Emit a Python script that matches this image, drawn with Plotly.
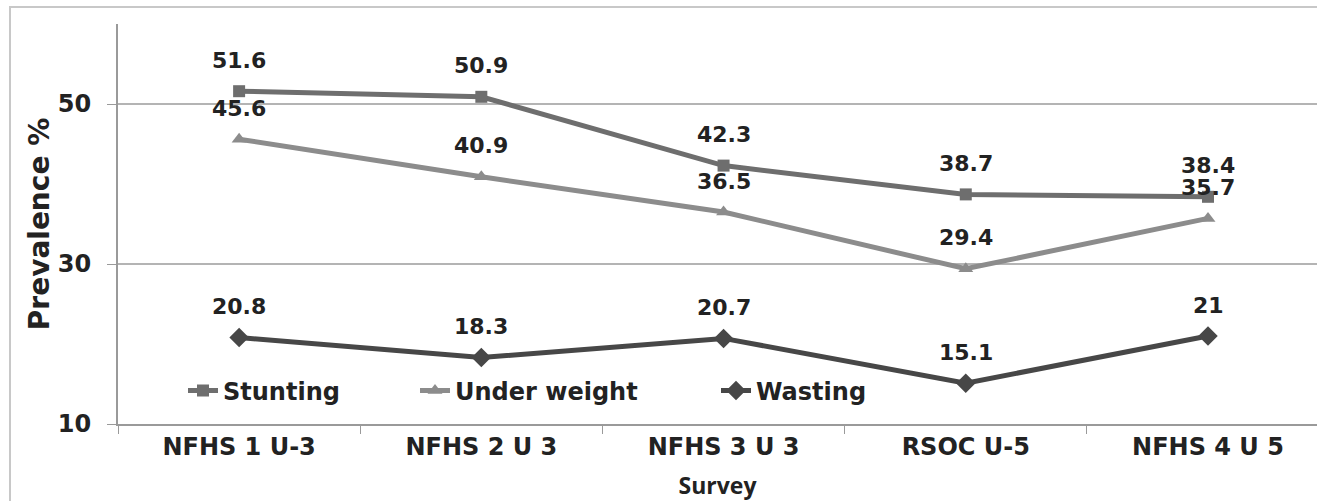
import plotly.graph_objects as go

categories = ["NFHS 1 U-3", "NFHS 2 U 3", "NFHS 3 U 3", "RSOC U-5", "NFHS 4 U 5"]
stunting = [51.6, 50.9, 42.3, 38.7, 38.4]
underweight = [45.6, 40.9, 36.5, 29.4, 35.7]
wasting = [20.8, 18.3, 20.7, 15.1, 21]
label_text = {
    "Stunting": ["51.6", "50.9", "42.3", "38.7", "38.4"],
    "Under weight": ["45.6", "40.9", "36.5", "29.4", "35.7"],
    "Wasting": ["20.8", "18.3", "20.7", "15.1", "21"],
}

FONT = "DejaVu Sans"
series = [
    ("Stunting", stunting, "#6e6e6e", "square", 12, "legend"),
    ("Under weight", underweight, "#8c8c8c", "triangle-up", 13, "legend2"),
    ("Wasting", wasting, "#474747", "diamond", 15, "legend3"),
]

fig = go.Figure()
for name, vals, color, sym, msize, lg in series:
    fig.add_trace(go.Scatter(
        x=categories, y=vals, name=name, mode="lines+markers",
        line=dict(color=color, width=5),
        marker=dict(symbol=sym, size=msize, color=color),
        legend=lg, cliponaxis=False,
    ))

annotations = []
for name, vals, color, sym, msize, lg in series:
    for c, v, t in zip(categories, vals, label_text[name]):
        annotations.append(dict(
            x=c, y=v, xref="x", yref="y", text=t, showarrow=False,
            yshift=31, xanchor="center", yanchor="middle",
            font=dict(family=FONT, size=22, color="#222222", weight="bold"),
        ))

def lgd(px):
    return dict(
        x=(px - 118) / 1199, y=(424 - 391) / 400, xanchor="left", yanchor="middle",
        orientation="h", bgcolor="rgba(0,0,0,0)", borderwidth=0,
        font=dict(family=FONT, size=24, color="#222222", weight="bold"),
        itemsizing="trace",
    )

fx0 = (10 - 118) / 1199
fy1 = (424 - 7) / 400
frame_path = f"M {fx0},-0.6 L {fx0},{fy1} L 1.5,{fy1}"

fig.update_layout(
    width=1317, height=501,
    margin=dict(l=118, r=0, t=24, b=77),
    paper_bgcolor="white", plot_bgcolor="white",
    showlegend=True,
    legend=lgd(183), legend2=lgd(415), legend3=lgd(716),
    annotations=annotations,
    shapes=[dict(type="path", xref="paper", yref="paper", path=frame_path,
                 line=dict(color="#c8c8c8", width=2), layer="below")],
    xaxis=dict(
        type="category", range=[-0.5, 4.45], automargin=False,
        showline=True, linecolor="#9a9a9a", linewidth=2,
        ticks="outside", tickson="boundaries", ticklen=8, tickcolor="#9a9a9a", tickwidth=1,
        tickfont=dict(family=FONT, size=24, color="#222222", weight="bold"),
        showgrid=False,
        title=dict(text="Survey", standoff=19,
                   font=dict(family="Open Sans", size=23, color="#222222", weight="bold")),
    ),
    yaxis=dict(
        range=[10, 60], tick0=10, dtick=20, automargin=False,
        showline=True, linecolor="#9a9a9a", linewidth=2,
        ticks="outside", ticklen=9, tickcolor="#9a9a9a", tickwidth=1,
        ticklabelstandoff=11,
        tickfont=dict(family=FONT, size=24, color="#222222", weight="bold"),
        showgrid=True, gridcolor="#b4b4b4", gridwidth=2, zeroline=False,
        title=dict(text="Prevalence %", standoff=0,
                   font=dict(family=FONT, size=28, color="#222222", weight="bold")),
    ),
)

fig.write_html("out.html", config={"displayModeBar": False},
               post_script="document.body.style.margin='0';")
